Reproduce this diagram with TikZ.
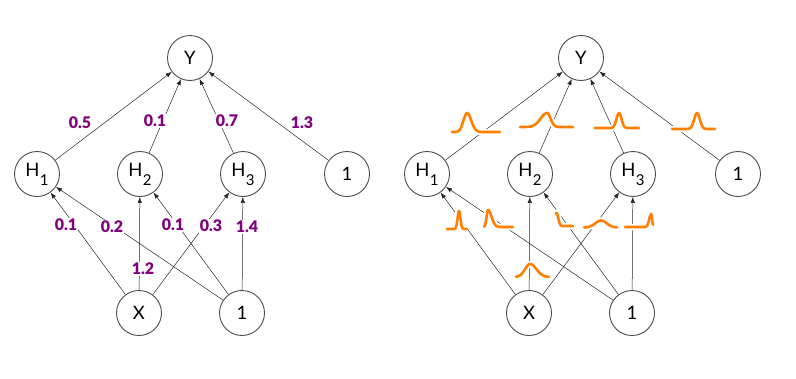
\documentclass[tikz,border=0pt]{standalone}
\usepackage{fontspec}
\setmainfont{Lato}
\newfontfamily\heavyfont{Lato Black}
\usepackage{tikz}
\usetikzlibrary{arrows.meta}
\definecolor{weightpurple}{RGB}{128, 0, 128}
\definecolor{densorange}{RGB}{255, 128, 0}

% hidden unit label with a large, low subscript
\newcommand{\hsub}[1]{H\kern0.5pt\raisebox{-9pt}{\fontsize{15pt}{15pt}\selectfont #1}}

% density curve: from, to, mean, left width, right width, height, baseline
\newcommand{\density}[7]{%
  \draw[densline] plot[domain=#1:#3, samples=20] (\x, {#7-#6*exp(-((\x-#3)/#4)^2)})
    -- plot[domain=#3:#2, samples=40] (\x, {#7-#6*exp(-((\x-#3)/#5)^2)});}

\begin{document}
\begin{tikzpicture}[
          x=1pt, y=-1pt,
          neuron/.style={circle, draw=black!70, line width=0.9pt, fill=white, minimum size=45pt, inner sep=0pt, font=\fontsize{18.5pt}{20pt}\selectfont},
          link/.style={draw=black!85, line width=0.5pt, -{Latex[length=6pt, width=4.5pt]}},
          weight/.style={fill=white, inner sep=1pt, text=weightpurple, font=\heavyfont\fontsize{16pt}{16pt}\selectfont},
          densline/.style={densorange, line width=2.6pt, line cap=round, line join=round, preaction={draw=white, line width=6.5pt}}
        ]
          \useasboundingbox (0,0) rectangle (796,378);

          % Left panel: point weights
          \node[neuron] (Y) at (190,58) {Y};
          \node[neuron] (H1) at (37,174) {\hsub{1}};
          \node[neuron] (H2) at (140,174) {\hsub{2}};
          \node[neuron] (H3) at (243,174) {\hsub{3}};
          \node[neuron] (B1) at (347,174) {1};
          \node[neuron] (X) at (139,313) {X};
          \node[neuron] (B0) at (242,313) {1};

          % Right panel: weight distributions
          \node[neuron] (rY) at (581,58) {Y};
          \node[neuron] (rH1) at (427,174) {\hsub{1}};
          \node[neuron] (rH2) at (530,174) {\hsub{2}};
          \node[neuron] (rH3) at (633,174) {\hsub{3}};
          \node[neuron] (rB1) at (738,174) {1};
          \node[neuron] (rX) at (529,313) {X};
          \node[neuron] (rB0) at (632,313) {1};

          % Connections in both panels
          \foreach \s/\t in {H1/Y, H2/Y, H3/Y, B1/Y, X/H1, X/H2, X/H3, B0/H1, B0/H2, B0/H3} {
            \draw[link] (\s) -- (\t);
            \draw[link] (r\s) -- (r\t);
          }

          % Weight values
          \node[weight] (wH1) at (80,123) {0.5};
          \node[weight] (wH2) at (155,121) {0.1};
          \node[weight] (wH3) at (227,121) {0.7};
          \node[weight] (wB1) at (302,123) {1.3};
          \node[weight] (wXH1) at (66,225) {0.1};
          \node[weight] (wBH1) at (112,227) {0.2};
          \node[weight] (wBH2) at (173,225) {0.1};
          \node[weight] (wXH3) at (211,226) {0.3};
          \node[weight] (wBH3) at (247,227) {1.4};
          \node[weight] (wXH2) at (143,269) {1.2};

          % Weight densities
          \density{452}{500}{467}{5}{6}{19}{132}
          \density{520}{573}{547}{9}{5}{14}{127}
          \density{595}{639}{619}{3.5}{3.5}{15}{128}
          \density{672}{715}{697}{4}{4}{16}{129}
          \density{447}{467}{459}{2}{2}{18}{229}
          \density{484}{513}{488}{2}{5}{17}{227}
          \density{556}{573}{556.5}{2}{2.5}{13}{226}
          \density{584}{617}{601}{8}{8}{7}{227.5}
          \density{625}{653}{651}{2.5}{1.5}{13}{227}
          \density{516}{549}{530}{7}{9}{13}{277}
        \end{tikzpicture}
\end{document}
